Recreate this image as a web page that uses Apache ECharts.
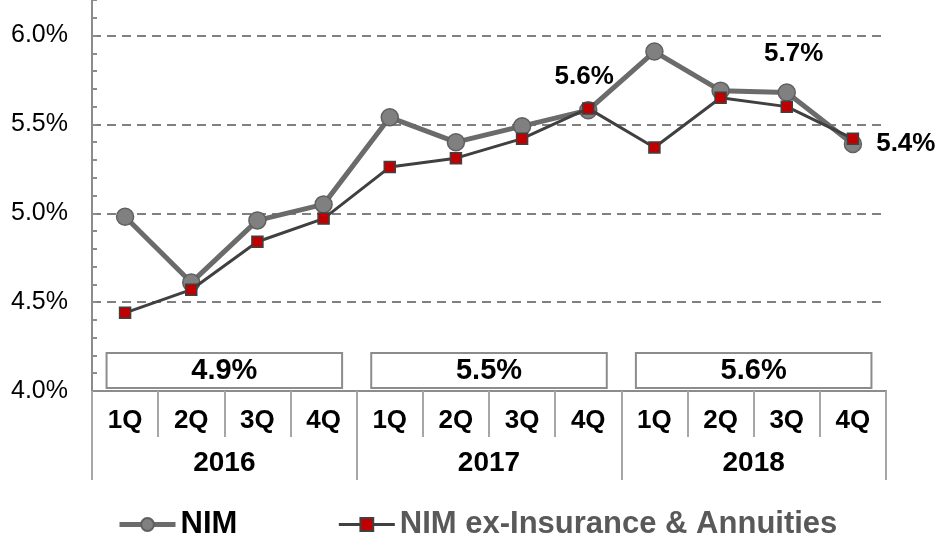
<!DOCTYPE html>
<html>
<head>
<meta charset="utf-8">
<script src="https://cdn.jsdelivr.net/npm/echarts@6/dist/echarts.min.js"></script>
<style>
  html, body { margin: 0; padding: 0; background: #fff; }
  #chart { width: 942px; height: 548px; }
</style>
</head>
<body>
<div id="chart"></div>
<script>
// quarters & years on the category axes
const quarters = ['1Q', '2Q', '3Q', '4Q'];
const years = ['2016', '2017', '2018'];
// NIM by quarter (%)
const nim = [4.98, 4.61, 4.96, 5.05, 5.54, 5.40, 5.49, 5.58, 5.91, 5.69, 5.68, 5.39];
// NIM ex-Insurance & Annuities (%)
const nimExIA = [4.44, 4.57, 4.84, 4.97, 5.26, 5.31, 5.42, 5.59, 5.37, 5.65, 5.60, 5.42];
// full-year NIM shown in the boxes
const annualNim = [4.9, 5.5, 5.6];

const categories = years.flatMap(y => quarters.map(q => q));
const FONT = '"Liberation Sans", Arial, sans-serif';

// which NIM points get a value label
const labelPos = {
  7: { position: 'top', distance: 11, offset: [-4, 0] },
  10: { position: 'top', distance: 16, offset: [7, 0] },
  11: { position: 'right', distance: 14 }
};

const nimData = nim.map((v, i) => {
  if (!labelPos[i]) return v;
  return {
    value: v,
    label: Object.assign({
      show: true,
      formatter: p => p.value.toFixed(1) + '%',
      fontFamily: FONT, fontWeight: 'bold', fontSize: 26, color: '#000'
    }, labelPos[i])
  };
});

const chart = echarts.init(document.getElementById('chart'));

chart.setOption({
  animation: false,
  grid: { left: 92, right: 56, top: 0, bottom: 157 },
  legend: {
    left: 112,
    top: 504,
    itemWidth: 56,
    itemHeight: 16,
    itemGap: 100,
    textStyle: { fontFamily: FONT, fontWeight: 'bold', fontSize: 31 },
    data: [
      { name: 'NIM', textStyle: { color: '#000' }, lineStyle: { width: 5 } },
      { name: 'NIM ex-Insurance & Annuities', textStyle: { color: '#595959' }, lineStyle: { width: 3 } }
    ]
  },
  xAxis: [{
    type: 'category',
    position: 'bottom',
    data: categories,
    boundaryGap: true,
    axisLine: { show: true, lineStyle: { color: '#8c8c8c', width: 2 } },
    axisTick: { show: true, interval: 0, alignWithLabel: false, length: 46, lineStyle: { color: '#a6a6a6', width: 2 } },
    axisLabel: { interval: 0, margin: 17, fontFamily: FONT, fontWeight: 'bold', fontSize: 26, color: '#000' }
  }, {
    type: 'category',
    position: 'bottom',
    offset: 0,
    data: years,
    boundaryGap: true,
    axisLine: { show: true, lineStyle: { color: '#8c8c8c', width: 2 } },
    axisTick: { show: true, interval: 0, alignWithLabel: false, length: 89, lineStyle: { color: '#a6a6a6', width: 2 } },
    axisLabel: { interval: 0, margin: 58, fontFamily: FONT, fontWeight: 'bold', fontSize: 28, color: '#000' }
  }],
  yAxis: {
    type: 'value',
    min: 4.0,
    max: 6.2,
    interval: 0.1,
    axisLine: { show: true, lineStyle: { color: '#8c8c8c', width: 2 } },
    axisTick: { show: true, inside: true, length: 5, lineStyle: { color: '#8c8c8c', width: 2 } },
    axisLabel: {
      margin: 24,
      fontFamily: FONT, fontSize: 25, color: '#000',
      formatter: v => Math.abs(v * 2 - Math.round(v * 2)) < 1e-6 && v < 6.1 ? v.toFixed(1) + '%' : ''
    },
    splitLine: {
      show: true,
      lineStyle: {
        color: ['#808080', 'rgba(0,0,0,0)', 'rgba(0,0,0,0)', 'rgba(0,0,0,0)', 'rgba(0,0,0,0)'],
        width: 2,
        type: [9, 6]
      }
    }
  },
  series: [{
    name: 'NIM',
    type: 'line',
    data: nimData,
    symbol: 'circle',
    symbolSize: 17,
    lineStyle: { color: '#6b6b6b', width: 5 },
    itemStyle: { color: '#808080', borderColor: '#606060', borderWidth: 1.5 },
    z: 3
  }, {
    name: 'NIM ex-Insurance & Annuities',
    type: 'line',
    data: nimExIA,
    symbol: 'rect',
    symbolSize: 11,
    lineStyle: { color: '#404040', width: 3 },
    itemStyle: { color: '#c00000', borderColor: '#404040', borderWidth: 1.5 },
    z: 4
  }, {
    // full-year boxes sitting on the axis
    type: 'custom',
    xAxisIndex: 1,
    yAxisIndex: 0,
    data: annualNim.map((v, i) => [i, v]),
    silent: true,
    z: 5,
    renderItem: (params, api) => {
      const c = api.coord([api.value(0), 4.0]);
      const w = api.size([1, 0])[0] * 0.89;
      return {
        type: 'group',
        children: [{
          type: 'rect',
          shape: { x: c[0] - w / 2, y: c[1] - 38, width: w, height: 35 },
          style: { fill: '#fff', stroke: '#8c8c8c', lineWidth: 2 }
        }, {
          type: 'text',
          x: c[0], y: c[1] - 20,
          style: {
            text: api.value(1).toFixed(1) + '%',
            align: 'center', verticalAlign: 'middle',
            font: 'bold 29px ' + FONT, fill: '#000'
          }
        }]
      };
    }
  }]
});
</script>
</body>
</html>
